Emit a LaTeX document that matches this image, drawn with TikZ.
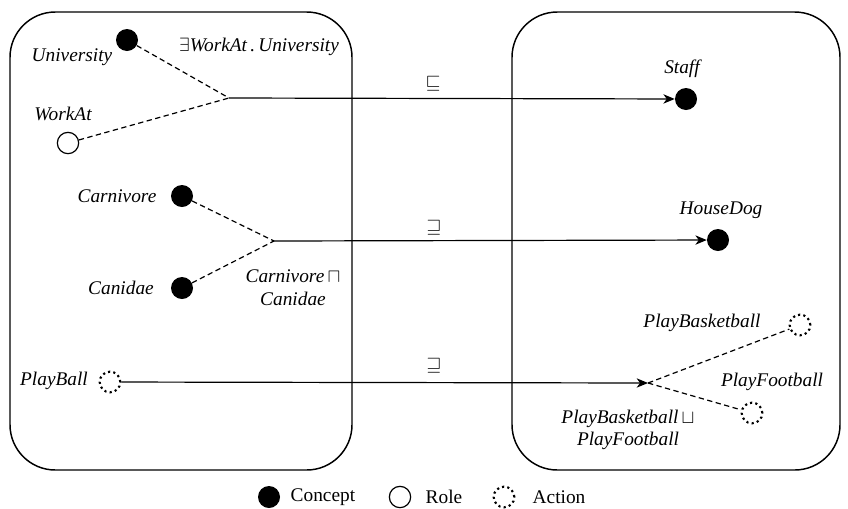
\documentclass[tikz,border=0pt]{standalone}
\usepackage{fontspec}
\setmainfont{Liberation Serif}
\usetikzlibrary{arrows.meta}

\begin{document}
\begin{tikzpicture}[
  x=0.75pt, y=-0.75pt,
  every node/.style={font=\fontsize{14.5}{17}\selectfont\itshape},
  frame/.style={draw=black, line width=1.1pt, rounded corners=34pt},
  concept/.style={circle, fill=black, minimum size=16.5pt, inner sep=0pt},
  role/.style={circle, draw=black, line width=0.9pt, fill=white, minimum size=16pt, inner sep=0pt},
  action/.style={circle, draw=black, dash pattern=on 1.6pt off 2.4pt, line width=1.6pt, minimum size=15.5pt, inner sep=0pt},
  link/.style={dash pattern=on 4pt off 2.6pt, line width=0.9pt},
  arrow/.style={-{Stealth[length=8.5pt, width=7pt, inset=2.5pt]}, line width=0.9pt},
  rel/.style={font=\fontsize{14.5}{17}\selectfont},
  legend/.style={font=\fontsize{14.5}{17}\selectfont\upshape},
]

\useasboundingbox (0,0) rectangle (848,508);

% the two frames
\draw[frame] (10,12) rectangle (352,470);
\draw[frame] (512,12) rectangle (840,470);

% left side
\node[concept] (univ) at (127,40) {};
\node (univlbl) at (72,57) {University};
\node[role] (workat) at (68,143) {};
\node (workatlbl) at (63,114) {WorkAt};
\coordinate (j1) at (229,98);
\node (exlbl) at (259,47) {$\exists$WorkAt\,.\,University};

\node[concept] (carn) at (182,196) {};
\node (carnlbl) at (117,196) {Carnivore};
\node[concept] (canid) at (182,288) {};
\node (canidlbl) at (121,288) {Canidae};
\coordinate (j2) at (274,241);
\node[align=center, inner sep=0pt] (andlbl) at (293,288) {Carnivore\,$\sqcap$\\Canidae};

\node[action] (ball) at (110,382) {};
\node (balllbl) at (54,381) {PlayBall};

% right side
\node[concept] (staff) at (686,99) {};
\node (stafflbl) at (682,69) {Staff};
\node[concept] (dog) at (718,240) {};
\node (doglbl) at (721,210) {HouseDog};

\coordinate (j3) at (648,383);
\node[action] (bask) at (800,325) {};
\node (basklbl) at (702,323) {PlayBasketball};
\node[action] (foot) at (752,413) {};
\node (footlbl) at (772,382) {PlayFootball};
\node[align=center, inner sep=0pt] (orlbl) at (628,430) {PlayBasketball\,$\sqcup$\\PlayFootball};

% relation symbols
\node[rel] (sub) at (433,84) {$\sqsubseteq$};
\node[rel] (sup1) at (434,228) {$\sqsupseteq$};
\node[rel] (sup2) at (434,366) {$\sqsupseteq$};

% connectors
\draw[link] (univ) -- (j1);
\draw[link] (workat) -- (j1);
\draw[link] (carn) -- (j2);
\draw[link] (canid) -- (j2);
\draw[link] (j3) -- (bask);
\draw[link] (j3) -- (foot);

\draw[arrow] (j1) -- (staff);
\draw[arrow] (j2) -- (dog);
\draw[arrow] (ball) -- (j3);

% legend
\node[concept] (lgc) at (269,497) {};
\node[legend, anchor=west] (lgclbl) at (286,497) {Concept};
\node[role] (lgr) at (400,497) {};
\node[legend, anchor=west] (lgrlbl) at (421,497) {Role};
\node[action] (lga) at (504,497) {};
\node[legend, anchor=west] (lgalbl) at (528,497) {Action};

\end{tikzpicture}
\end{document}
